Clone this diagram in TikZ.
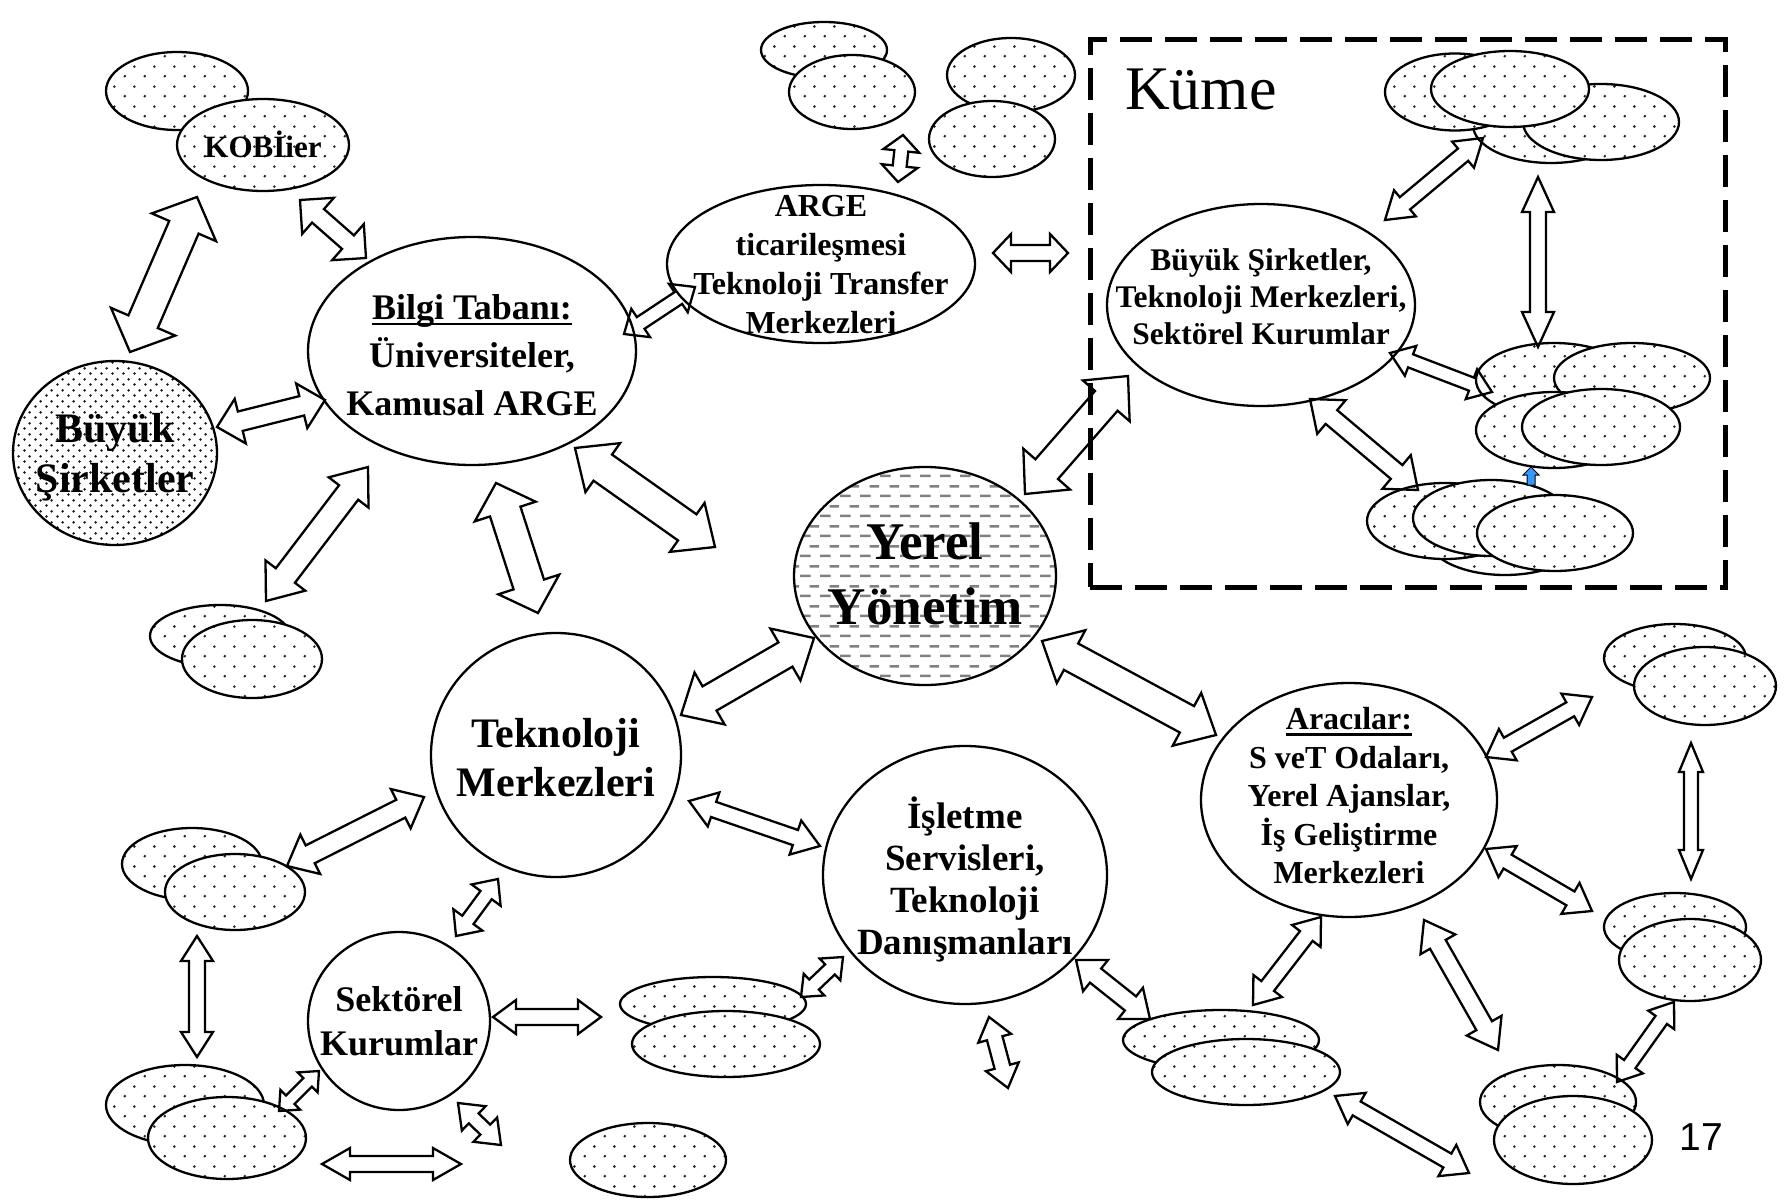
\documentclass[tikz,border=0pt]{standalone}
\usepackage{fontspec}
\setmainfont{Liberation Serif}
\newfontfamily\sansf{Liberation Sans}
\usetikzlibrary{calc,patterns,shapes.geometric}

\pgfdeclarepatternformonly{sdots}{\pgfqpoint{0pt}{0pt}}{\pgfqpoint{20pt}{20pt}}{\pgfqpoint{20pt}{20pt}}{%
  \pgfpathcircle{\pgfqpoint{5pt}{5pt}}{1.5pt}%
  \pgfpathcircle{\pgfqpoint{15pt}{15pt}}{1.5pt}%
  \pgfusepath{fill}}
\pgfdeclarepatternformonly{ddots}{\pgfqpoint{0pt}{0pt}}{\pgfqpoint{11pt}{11pt}}{\pgfqpoint{11pt}{11pt}}{%
  \pgfpathcircle{\pgfqpoint{2.75pt}{2.75pt}}{1.5pt}%
  \pgfpathcircle{\pgfqpoint{8.25pt}{8.25pt}}{1.5pt}%
  \pgfusepath{fill}}
\pgfdeclarepatternformonly{hdash}{\pgfqpoint{0pt}{0pt}}{\pgfqpoint{20pt}{20pt}}{\pgfqpoint{20pt}{20pt}}{%
  \pgfpathrectangle{\pgfqpoint{0pt}{4pt}}{\pgfqpoint{11pt}{2.6pt}}%
  \pgfpathrectangle{\pgfqpoint{10pt}{14pt}}{\pgfqpoint{10pt}{2.6pt}}%
  \pgfusepath{fill}}

\newcommand{\myul}[1]{\setbox0=\hbox{#1}\rlap{\rule[-6pt]{\wd0}{2.5pt}}\box0}
\newcommand{\ellnode}[6]{\node[#1, minimum width=#5pt, minimum height=#6pt] (#2) at (#3,#4) {};}
\newcommand{\dblarrow}[5]{%
  \draw[barrow] (#1)
    -- ($(#1)!#5pt!(#2)!#4pt!90:(#2)$)
    -- ($(#1)!#5pt!(#2)!#3pt!90:(#2)$)
    -- ($(#2)!#5pt!(#1)!#3pt!-90:(#1)$)
    -- ($(#2)!#5pt!(#1)!#4pt!-90:(#1)$)
    -- (#2)
    -- ($(#2)!#5pt!(#1)!#4pt!90:(#1)$)
    -- ($(#2)!#5pt!(#1)!#3pt!90:(#1)$)
    -- ($(#1)!#5pt!(#2)!#3pt!-90:(#2)$)
    -- ($(#1)!#5pt!(#2)!#4pt!-90:(#2)$)
    -- cycle;}
\newcommand{\darr}[8]{%
  \coordinate (#1a) at (#2,#3);
  \coordinate (#1b) at (#4,#5);
  \dblarrow{#1a}{#1b}{#6}{#7}{#8}}

\tikzset{
  base/.style={ellipse, draw, line width=2.3pt, inner sep=0pt},
  plain/.style={base, fill=white},
  spot/.style={base, preaction={fill=white}, pattern=sdots, pattern color=black!85},
  dense/.style={base, preaction={fill=white}, pattern=ddots, pattern color=black!90},
  hatch/.style={base, preaction={fill=white}, pattern=hdash, pattern color=black!50},
  barrow/.style={draw, line width=2.3pt, line join=miter},
  lbl/.style={align=center, inner sep=0pt},
}

\begin{document}
\begin{tikzpicture}[x=1pt, y=-1pt]
\useasboundingbox (0,0) rectangle (1786,1201);

% cluster box
\node[draw, line width=5pt, dash pattern=on 32pt off 13pt, minimum width=635pt, minimum height=547pt, inner sep=0pt] (kume) at (1407.5,313.5) {};
\node[anchor=base west, font=\fontsize{62}{70}\selectfont, inner sep=0pt] (kumeT) at (1125,110) {Küme};

% top-left
\ellnode{spot}{kobiB}{177}{91}{142}{78}
\ellnode{spot}{kobi}{263}{145}{172}{92}
\ellnode{dense}{buyuk}{115}{453}{204}{184}
\ellnode{plain}{bilgi}{472}{351}{328}{228}
\ellnode{plain}{arge}{821}{264}{308}{158}
\ellnode{spot}{ta1}{824}{50}{126}{56}
\ellnode{spot}{ta2}{852}{92}{126}{74}
\ellnode{spot}{tb1}{1011}{75}{128}{74}
\ellnode{spot}{tb2}{992}{139}{126}{76}
\ellnode{hatch}{yerel}{925}{576}{262}{218}
\ellnode{spot}{ll1}{220}{636}{140}{62}
\ellnode{spot}{ll2}{252}{659}{140}{78}
\ellnode{plain}{tekno}{556}{755}{250}{244}
\ellnode{plain}{isl}{965}{875}{284}{258}
\ellnode{plain}{sek}{399}{1021}{182}{178}
\ellnode{plain}{arac}{1349}{800}{296}{234}
\ellnode{plain}{kumeE}{1261}{305}{308}{202}

% inside cluster
\ellnode{spot}{e4}{1551}{125}{156}{76}
\ellnode{spot}{e3}{1601}{122}{156}{76}
\ellnode{spot}{e1}{1455}{92}{140}{77}
\ellnode{spot}{e2}{1510}{89}{158}{76}
\ellnode{spot}{m1}{1554}{380}{156}{74}
\ellnode{spot}{m2}{1632}{378}{156}{70}
\ellnode{spot}{m3}{1554}{430}{156}{76}
\ellnode{spot}{m4}{1601}{427}{158}{76}
\ellnode{spot}{b3}{1505}{537}{156}{76}
\ellnode{spot}{b1}{1445}{521}{156}{76}
\ellnode{spot}{b2}{1491}{518}{156}{76}
\ellnode{spot}{b4}{1555}{533}{156}{76}

% lower groups
\ellnode{spot}{lm1}{192}{864}{140}{72}
\ellnode{spot}{lm2}{235}{892}{140}{76}
\ellnode{spot}{lb1}{185}{1105}{158}{80}
\ellnode{spot}{lb2}{227}{1138}{158}{82}
\ellnode{spot}{bc1}{713}{1004}{186}{54}
\ellnode{spot}{bc2}{726}{1044}{188}{66}
\ellnode{spot}{bs}{648}{1160}{156}{74}
\ellnode{spot}{bmr1}{1221}{1040}{196}{60}
\ellnode{spot}{bmr2}{1246}{1072}{188}{66}
\ellnode{spot}{rt1}{1675}{658}{142}{68}
\ellnode{spot}{rt2}{1705}{686}{142}{78}
\ellnode{spot}{rm1}{1675}{927}{142}{68}
\ellnode{spot}{rm2}{1690}{960}{142}{82}
\ellnode{spot}{br1}{1558}{1102}{156}{74}
\ellnode{spot}{br2}{1573}{1140}{158}{88}

% texts
\node[lbl, font=\bfseries\fontsize{31}{37}\selectfont] (kobiT) at (263,144) {KOBİier};
\node[lbl, font=\bfseries\fontsize{42}{50}\selectfont] (buyukT) at (115,457) {Büyük\\Şirketler};
\node[lbl, font=\bfseries\fontsize{36}{48}\selectfont] (bilgiT) at (472,355) {\myul{Bilgi Tabanı:}\\Üniversiteler,\\Kamusal ARGE};
\node[lbl, font=\bfseries\fontsize{32}{39}\selectfont] (argeT) at (821,265) {ARGE\\ticarileşmesi\\Teknoloji Transfer\\Merkezleri};
\node[lbl, font=\bfseries\fontsize{53}{65}\selectfont] (yerelT) at (925,574) {Yerel\\Yönetim};
\node[lbl, font=\bfseries\fontsize{42}{49}\selectfont] (teknoT) at (556,758) {Teknoloji\\Merkezleri};
\node[lbl, font=\bfseries\fontsize{37}{42}\selectfont] (islT) at (965,879) {İşletme\\Servisleri,\\Teknoloji\\Danışmanları};
\node[lbl, font=\bfseries\fontsize{36}{44}\selectfont] (sekT) at (399,1021) {Sektörel\\Kurumlar};
\node[lbl, font=\bfseries\fontsize{32}{38.5}\selectfont] (aracT) at (1349,796) {\myul{Aracılar:}\\S veT Odaları,\\Yerel Ajanslar,\\İş Geliştirme\\Merkezleri};
\node[lbl, font=\bfseries\fontsize{31.5}{37}\selectfont] (kumeET) at (1261,297) {Büyük Şirketler,\\Teknoloji Merkezleri,\\Sektörel Kurumlar};
\node[anchor=base, font=\sansf\fontsize{39}{44}\selectfont, inner sep=0pt] (pnum) at (1701,1150) {17};

% arrows
\darr{ar1}{197}{197}{130}{352}{16}{35}{33}
\darr{ar2}{300}{200}{366}{258}{9}{24}{24}
\darr{ar3}{217}{427}{325}{400}{10}{23}{24}
\darr{ar4}{368}{467}{266}{601}{12}{25}{32}
\darr{ar5}{624}{334}{695}{287}{7}{17}{20}
\darr{ar6}{496}{483}{538}{613}{16}{32}{30}
\darr{ar7}{575}{448}{715}{547}{16}{30}{34}
\darr{ar8}{898}{182}{903}{135}{7}{18}{16}
\darr{ar9}{993}{253}{1068}{253}{8}{19}{18}
\darr{ar10}{1025}{494}{1128}{376}{15}{31}{33}
\darr{ar11}{1385}{220}{1483}{138}{8}{17}{26}
\darr{ar12}{1538}{177}{1538}{347}{8}{16}{35}
\darr{ar13}{1390}{353}{1492}{392}{7}{16}{22}
\darr{ar14}{1310}{399}{1418}{490}{9}{22}{28}
\darr{ar16}{681}{715}{814}{638}{14}{30}{33}
\darr{ar17}{1042}{641}{1216}{735}{15}{30}{33}
\darr{ar18}{424}{797}{287}{866}{10}{22}{26}
\darr{ar19}{498}{879}{456}{936}{7}{18}{20}
\darr{ar20}{689}{801}{820}{846}{8}{18}{26}
\darr{ar21}{319}{1071}{279}{1111}{6}{14}{16}
\darr{ar22}{197}{936}{197}{1057}{8}{16}{25}
\darr{ar23}{493}{1017}{601}{1017}{8}{17}{23}
\darr{ar24}{458}{1103}{501}{1145}{7}{17}{22}
\darr{ar25}{322}{1164}{461}{1164}{8}{16}{28}
\darr{ar26}{801}{997}{843}{957}{7}{15}{18}
\darr{ar27}{989}{1017}{1008}{1088}{8}{17}{22}
\darr{ar28}{1076}{960}{1150}{1019}{9}{20}{25}
\darr{ar29}{1321}{917}{1253}{1005}{8}{18}{24}
\darr{ar30}{1424}{920}{1498}{1050}{9}{20}{28}
\darr{ar31}{1335}{1096}{1469}{1173}{8}{18}{25}
\darr{ar32}{1486}{757}{1592}{697}{8}{18}{25}
\darr{ar33}{1486}{849}{1592}{911}{8}{18}{25}
\darr{ar34}{1691}{743}{1691}{879}{7}{12}{29}
\darr{ar35}{1674}{1002}{1617}{1082}{7}{16}{22}

% small blue arrow
\coordinate (blueA) at (1531,485);
\coordinate (blueB) at (1531,467);
\draw[line width=1pt, fill={rgb,255:red,51;green,153;blue,255}] (blueB) -- ++(8,8) -- ++(-4,0) -- (blueA -| 1535,0) -- ++(-8,0) -- ++(0,-10) -- ++(-4,0) -- cycle;
\end{tikzpicture}
\end{document}
